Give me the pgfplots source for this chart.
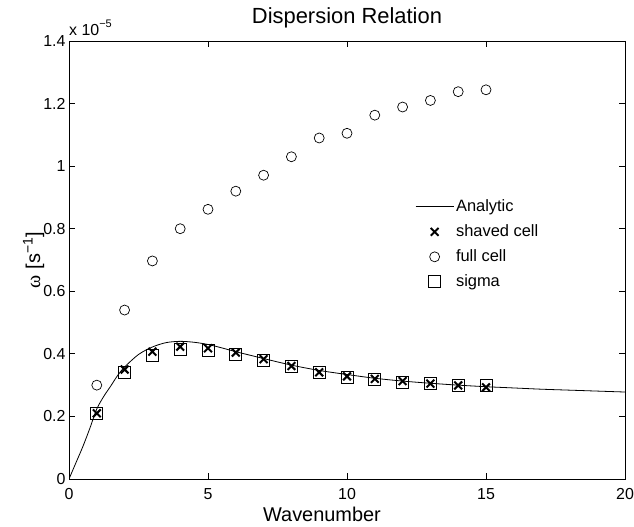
\documentclass[border=0pt]{standalone}
\usepackage{pgfplots}
\pgfplotsset{compat=1.18}
\usepackage{fontspec}
\setmainfont{Liberation Sans}
\newfontfamily\symfont{Liberation Serif}
\begin{document}
\begin{tikzpicture}
\begin{axis}[
  scale only axis, width=556bp, height=438bp,
  xmin=0, xmax=20, ymin=0, ymax=1.4,
  xtick={0,5,10,15,20},
  ytick={0,0.2,0.4,0.6,0.8,1,1.2,1.4},
  tick align=inside, tick pos=both,
  major tick length=6bp,
  axis line style={line width=0.8bp},
  xtick style={draw=black, line width=0.8bp},
  ytick style={draw=black, line width=0.8bp},
  /pgf/number format/assume math mode=true,
  ticklabel style={font=\fontsize{16}{19}\selectfont},
  xticklabel style={yshift=-6bp},
  title={Dispersion Relation},
  title style={font=\fontsize{22}{26}\selectfont, at={(axis description cs:0.5,1.027)}, anchor=base},
  xlabel={Wavenumber},
  xlabel style={font=\fontsize{20}{24}\selectfont, at={(axis description cs:0.455,-0.098)}, anchor=base},
  ylabel={{\symfont ω} [s\textsuperscript{−1}]},
  ylabel style={font=\fontsize{20}{24}\selectfont, at={(axis description cs:-0.052,0.5)}, anchor=base, rotate=0},
  legend style={draw=none, fill=none, at={(axis description cs:0.617,0.648)}, anchor=north west,
    font=\fontsize{16.5}{19}\selectfont, row sep=6bp,
    nodes={text height=12bp, text depth=3bp}},
  legend cell align=left,
  legend image code/.code={\draw[mark repeat=2,mark phase=2,#1] plot coordinates {(0bp,0bp) (19bp,0bp) (38bp,0bp)};},
]
\addplot[black, line width=0.8bp, smooth, mark=none] coordinates {
(0,0) (0.25,0.052) (0.5,0.104) (0.75,0.162) (1,0.224) (1.25,0.264) (1.5,0.297) (1.75,0.331) (2,0.358)
(2.5,0.398) (3,0.422) (3.5,0.436) (4,0.44) (4.5,0.437) (5,0.43) (5.5,0.419) (6,0.407)
(7,0.385) (8,0.364) (9,0.347) (10,0.334) (11,0.322) (12,0.313) (13,0.306) (14,0.300)
(15,0.295) (16,0.291) (17,0.287) (18,0.284) (19,0.281) (20,0.278)
};
\addlegendentry{Analytic}
\addplot[only marks, black, mark=x, mark size=5.5bp, mark options={line width=2bp}] coordinates {
(1,0.21) (2,0.35) (3,0.407) (4,0.423) (5,0.418) (6,0.404) (7,0.383) (8,0.361)
(9,0.341) (10,0.328) (11,0.32) (12,0.313) (13,0.305) (14,0.299) (15,0.293)
};
\addlegendentry{shaved cell}
\addplot[only marks, black, mark=o, mark size=5bp, mark options={line width=0.7bp}] coordinates {
(1,0.30) (2,0.54) (3,0.697) (4,0.80) (5,0.862) (6,0.92) (7,0.971) (8,1.03)
(9,1.09) (10,1.105) (11,1.163) (12,1.189) (13,1.21) (14,1.238) (15,1.244)
};
\addlegendentry{full cell}
\addplot[only marks, black, mark=square, mark size=6bp, mark options={line width=0.7bp}] coordinates {
(1,0.21) (2,0.341) (3,0.396) (4,0.414) (5,0.41) (6,0.398) (7,0.379) (8,0.359)
(9,0.341) (10,0.325) (11,0.317) (12,0.31) (13,0.305) (14,0.30) (15,0.30)
};
\addlegendentry{sigma}
\coordinate (bl) at (rel axis cs:0,0);
\coordinate (tl) at (rel axis cs:0,1);
\coordinate (tr) at (rel axis cs:1,1);
\end{axis}
\node[anchor=base west, font=\fontsize{16}{19}\selectfont, inner sep=0pt] at ([yshift=5bp]tl) {x 10\raisebox{8bp}{\fontsize{11}{12}\selectfont −5}};
\pgfresetboundingbox
\path ([shift={(-69bp,-48bp)}]bl) rectangle ([shift={(9bp,41bp)}]tr);
\end{tikzpicture}
\end{document}
